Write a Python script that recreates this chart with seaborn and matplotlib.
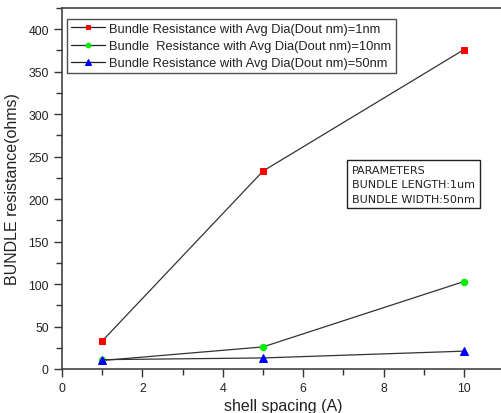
import matplotlib
matplotlib.use("Agg")
import matplotlib.pyplot as plt
from matplotlib.ticker import MultipleLocator
import seaborn as sns
import pandas as pd

# Shell spacing (Angstrom) and bundle resistance (ohms) for three average diameters
shell_spacing = [1, 5, 10]
res_1nm = [33, 233, 376]
res_10nm = [10, 26, 103]
res_50nm = [11, 13, 21]

labels = [
    "Bundle Resistance with Avg Dia(Dout nm)=1nm",
    "Bundle  Resistance with Avg Dia(Dout nm)=10nm",
    "Bundle Resistance with Avg Dia(Dout nm)=50nm",
]
param_lines = ["PARAMETERS", "BUNDLE LENGTH:1um", "BUNDLE WIDTH:50nm"]

sns.set_style("ticks")
plt.rcParams["font.family"] = ["Liberation Sans", "DejaVu Sans"]

fig = plt.figure(figsize=(5.01, 4.14), dpi=100)
ax = fig.add_axes([0.1238, 0.1063, 0.8826, 0.872])

series = [
    (res_1nm, "s", "#ff0000", 4.3),
    (res_10nm, "o", "#00ee00", 4.6),
    (res_50nm, "^", "#0000ff", 5.8),
]
for (vals, mk, col, ms), lab in zip(series, labels):
    df = pd.DataFrame({"x": shell_spacing, "y": vals})
    sns.lineplot(data=df, x="x", y="y", ax=ax, color="#333333", lw=0.9,
                 marker=mk, markersize=ms, markerfacecolor=col,
                 markeredgecolor=col, label=lab)

ax.set_xlim(0, 11)
ax.set_ylim(0, 425)
ax.xaxis.set_major_locator(MultipleLocator(2))
ax.xaxis.set_minor_locator(MultipleLocator(1))
ax.yaxis.set_major_locator(MultipleLocator(50))
ax.yaxis.set_minor_locator(MultipleLocator(25))
ax.tick_params(which="major", length=6, width=1, labelsize=8.8, direction="out",
               color="#333333", labelcolor="#222222")
ax.tick_params(which="minor", length=4, width=1, direction="out", color="#333333")
for s in ax.spines.values():
    s.set_color("#444444")
    s.set_linewidth(1.2)
ax.spines["right"].set_visible(False)

ax.set_xlabel("shell spacing (A)", fontsize=11.5, color="#222222", labelpad=3)
ax.set_ylabel("BUNDLE resistance(ohms)", fontsize=11.5, color="#222222", labelpad=6)

leg = ax.legend(loc="upper left", bbox_to_anchor=(0.012, 0.97), fontsize=9.25,
                frameon=True, fancybox=False, handlelength=2.6, handletextpad=0.35,
                borderpad=0.32, labelspacing=0.4, borderaxespad=0.0)
leg.get_frame().set_edgecolor("#222222")
leg.get_frame().set_linewidth(1.0)
for t in leg.get_texts():
    t.set_color("#222222")
for h, ms in zip(leg.legend_handles, [3.2, 3.4, 4.5]):
    h.set_markersize(ms)
    h.set_color("#222222")

ax.text(0.656, 0.565, "\n".join(param_lines), transform=ax.transAxes,
        fontsize=8.0, color="#222222", linespacing=1.55, va="top", ha="left",
        family="DejaVu Sans",
        bbox=dict(boxstyle="square,pad=0.42", fc="white", ec="#222222", lw=1.0))

fig.savefig("out.png", dpi=100)
